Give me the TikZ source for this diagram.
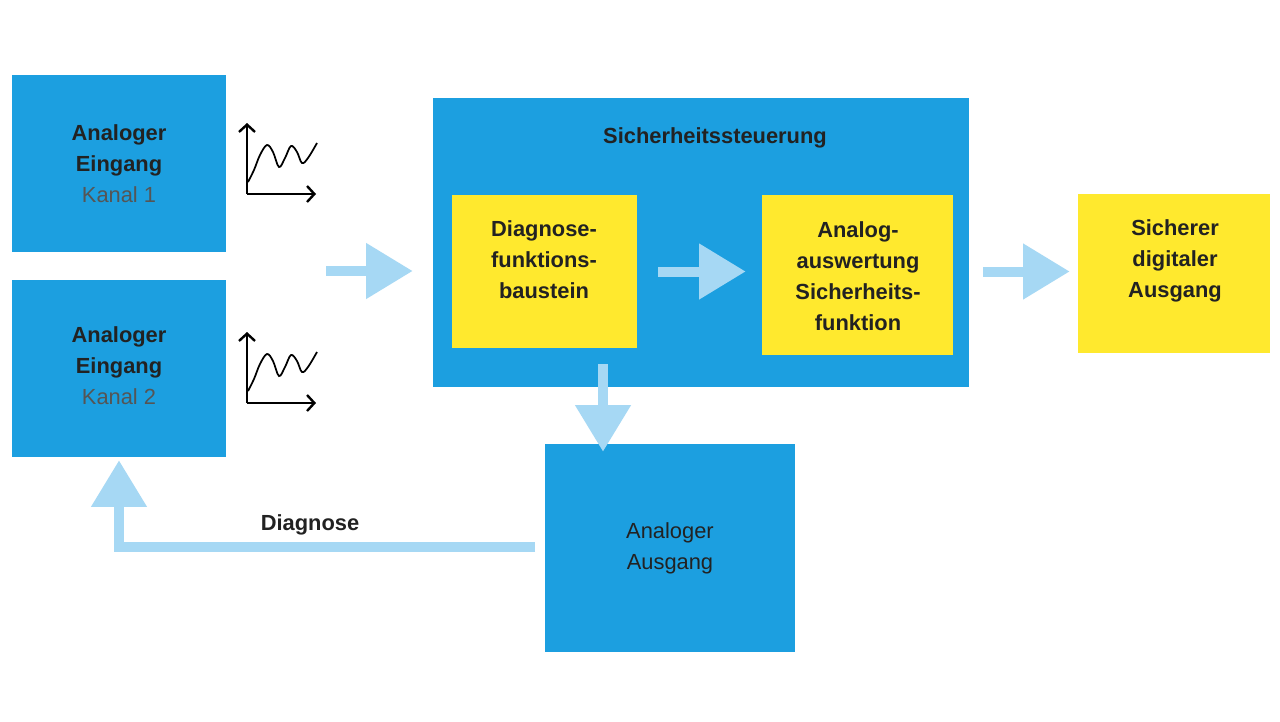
\documentclass[tikz,border=0pt]{standalone}
\usepackage{fontspec}
\setmainfont{Liberation Sans}
\usetikzlibrary{arrows.meta,calc}
\definecolor{boxblue}{HTML}{1C9FE0}
\definecolor{boxyellow}{HTML}{FFE92E}
\definecolor{flowblue}{HTML}{A6D8F4}
\definecolor{txt}{HTML}{222222}
\definecolor{txtgray}{HTML}{555555}
\tikzset{
  bluebox/.style={fill=boxblue, draw=none, inner sep=0pt},
  yellowbox/.style={fill=boxyellow, draw=none, inner sep=0pt},
  lbl/.style={align=center, text=txt, font=\fontsize{16.4}{23.25}\selectfont\bfseries, inner sep=0pt},
  lblreg/.style={align=center, text=txt, font=\fontsize{16.4}{23.25}\selectfont, inner sep=0pt},
  flow/.style={draw=flowblue, line width=7.5pt, line join=miter, -{Triangle[length=35pt,width=40pt]}},
  axis/.style={draw=black, line width=1.8pt, -{Straight Barb[length=5.5pt,width=12pt]}},
  wave/.style={draw=black, line width=1.3pt}
}
\begin{document}
\begin{tikzpicture}[x=0.75pt,y=-0.75pt]
\useasboundingbox (0,0) rectangle (1280,721);
\fill[white] (0,0) rectangle (1280,721);

% boxes
\node[bluebox, minimum width=160.5pt, minimum height=132.75pt] (ch1) at (119,163.5) {};
\node[bluebox, minimum width=160.5pt, minimum height=132.75pt] (ch2) at (119,368.5) {};
\node[bluebox, minimum width=402pt, minimum height=216.75pt] (sich) at (701,242.5) {};
\node[yellowbox, minimum width=138.75pt, minimum height=114.75pt] (diag) at (544.5,271.5) {};
\node[yellowbox, minimum width=143.25pt, minimum height=120pt] (ana) at (857.5,275) {};
\node[yellowbox, minimum width=144pt, minimum height=119.25pt] (sic) at (1174,273.5) {};
\node[bluebox, minimum width=187.5pt, minimum height=156pt] (aus) at (670,548) {};

% texts
\node[lbl] (t1) at (119,164) {Analoger\\Eingang\\\mdseries\color{txtgray}Kanal 1};
\node[lbl] (t2) at (119,366) {Analoger\\Eingang\\\mdseries\color{txtgray}Kanal 2};
\node[lbl] (tsich) at (715,138) {Sicherheitssteuerung};
\node[lbl] (tdiag) at (544,259.5) {Diagnose-\\funktions-\\baustein};
\node[lbl] (tana) at (858,276) {Analog-\\auswertung\\Sicherheits-\\funktion};
\node[lbl] (tsic) at (1175,261) {Sicherer\\digitaler\\Ausgang};
\node[lblreg] (taus) at (670,548.5) {Analoger\\Ausgang};
\node[lbl] (tdn) at (310,525) {Diagnose};

% signal icons
\foreach \dy/\nm in {0/s1, 209/s2} {
  \begin{scope}[shift={(0,\dy)}]
    \coordinate (\nm o) at (247,194);
    \draw[axis] (\nm o) -- (247,123);
    \draw[axis] (\nm o) -- (316,194);
    \draw[wave] plot[smooth, tension=0.6] coordinates {(248,182) (254,170) (260,155) (267,145) (273,152) (279,167) (285,158) (291,146) (297,152) (302,163) (308,158) (317,143)};
  \end{scope}
}

% flow arrows
\coordinate (in) at (326,271);
\draw[flow, shorten >=15pt] (in) -- (in -| sich.west);
\draw[flow, shorten <=15.75pt, shorten >=12pt] (diag.east) -- (ana.west |- diag.east);
\draw[flow, shorten <=10.5pt, shorten >=6pt] (sich.east |- diag.east) -- (sic.west |- diag.east);
\coordinate (dn) at (603,364);
\draw[flow, shorten >=-6pt] (dn) -- (dn |- aus.north);
\coordinate (ret) at (535,547);
\draw[flow, shorten >=2.25pt] (ret) -| (ch2.south);
\end{tikzpicture}
\end{document}
